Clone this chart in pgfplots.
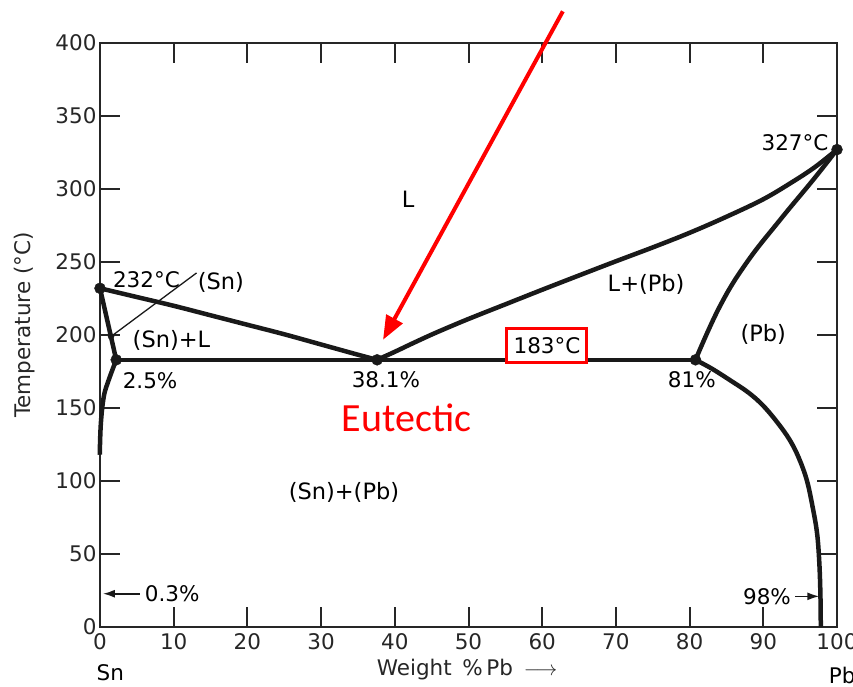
\documentclass[border=0pt]{standalone}
\usepackage{fontspec}
\setmainfont{DejaVu Sans}
\newfontfamily\calibri{Carlito}
\usepackage{pgfplots}
\pgfplotsset{compat=1.18}
\usetikzlibrary{arrows.meta}
\newcommand\fsz{\fontsize{21.5}{25}\selectfont}
\newcommand\fsr{\fontsize{22.5}{26}\selectfont}
\begin{document}
\begin{tikzpicture}
\begin{axis}[
  at={(0,0)}, anchor=south west,
  scale only axis, width=737pt, height=584pt,
  xmin=0, xmax=100, ymin=0, ymax=400,
  xtick={0,10,...,100}, ytick={0,50,...,400},
  tick align=inside, major tick length=20pt,
  axis line style={line width=2pt, black!85},
  every tick/.style={line width=2pt, black!85},
  tick label style={font=\fsz, text=black!85},
  xticklabel style={yshift=-3pt},
  /pgf/number format/assume math mode=true,
  clip=false,
  xlabel={Weight\enspace\%\,Pb\enspace$\longrightarrow$},
  xlabel style={font=\fsz, text=black!85, at={(axis description cs:0.498,-0.0736)}, anchor=center},
  ylabel={Temperature (°C)},
  ylabel style={font=\fsz, text=black!85, at={(axis description cs:-0.1018,0.517)}, anchor=center},
]
% left liquidus
\addplot[black!90, line width=4.5pt, smooth, tension=0.6] coordinates {
(0,232) (5,226) (10,220) (15,213.5) (20,207) (25,200.5) (30,193.5) (35,186.5) (37.6,183)};
% right liquidus
\addplot[black!90, line width=4.5pt, smooth, tension=0.6] coordinates {
(37.6,183) (40,188.5) (42,193.3) (44,198) (46,202.5) (50,211) (55,221) (60,231) (65,240.8) (70,250.5) (75,260) (80,270) (85,281) (90,293) (94,305) (97,315) (100,327)};
% (Pb) solidus
\addplot[black!90, line width=4.5pt, smooth, tension=0.7] coordinates {
(80.8,183) (84.1,219.6) (87.7,249.3) (92.3,279) (96.8,306.5) (100,327)};
% (Pb) solvus
\addplot[black!90, line width=4.5pt, smooth, tension=0.6] coordinates {
(80.8,183) (83,177) (85.5,169) (88,160.5) (90,151.5) (92,139.5) (93.6,128) (94.8,116) (95.9,100.6) (96.7,82) (97.3,64) (97.6,44) (97.75,22) (97.8,0)};
% (Sn) solidus
\addplot[black!90, line width=4.5pt] coordinates {(0,232) (2.2,183)};
% (Sn) solvus
\addplot[black!90, line width=4.5pt, smooth, tension=0.6] coordinates {
(2.2,183) (1.6,175) (1.1,168) (0.6,160) (0.3,150) (0.1,138) (0,125) (0,118)};
% eutectic line
\addplot[black!90, line width=4.5pt] coordinates {(2.2,183) (80.8,183)};
% points
\addplot[only marks, mark=*, mark size=5.5pt, black!90] coordinates {(0,232) (2.2,183) (37.6,183) (80.8,183) (100,327)};
% leader line to (Sn)
\addplot[black!90, line width=1.3pt] coordinates {(1.5,199) (13.1,242.5)};
\addplot[only marks, mark=*, mark size=3pt, black!90] coordinates {(1.5,199)};
% small arrows
\addplot[black!90, line width=1.6pt, -{Latex[length=12pt,width=8pt]}] coordinates {(5.4,22.8) (0.4,22.8)};
\addplot[black!90, line width=1.6pt, -{Latex[length=12pt,width=8pt]}] coordinates {(94.3,21) (97.6,21)};
% labels
\node[font=\fsr] at (axis cs:41.8,292.7) {L};
\node[font=\fsz] at (axis cs:6.3,238) {232°C};
\node[font=\fsr] at (axis cs:16.4,235.8) {(Sn)};
\node[font=\fsr] at (axis cs:9.7,196) {(Sn)+L};
\node[font=\fsz] at (axis cs:6.8,168.6) {2.5\%};
\node[font=\fsz] at (axis cs:38.8,169.3) {38.1\%};
\node[font=\fsz] at (axis cs:80.3,169.3) {81\%};
\node[draw=red, line width=3pt, fill=white, minimum width=80pt, minimum height=34pt, inner sep=0pt, font=\fsz] at (axis cs:60.65,193) {183°C};
\node[font=\fsr] at (axis cs:74.1,234.4) {L+(Pb)};
\node[font=\fsr] at (axis cs:90,200.1) {(Pb)};
\node[font=\fsz] at (axis cs:94.3,331.9) {327°C};
\node[font=\fsr] at (axis cs:33.1,92.4) {(Sn)+(Pb)};
\node[font=\calibri\fontsize{40}{44}\selectfont, text=red] at (axis cs:41.6,143.5) {Eutectic};
\node[font=\fsz] at (axis cs:9.8,22.8) {0.3\%};
\node[font=\fsz] at (axis cs:90.5,21) {98\%};
\node[font=\fsz] at (axis cs:1.4,-31) {Sn};
\node[font=\fsz] at (axis cs:100.7,-33) {Pb};
% red arrow
\addplot[red, line width=4pt, -{Triangle[length=24pt,width=18pt]}] coordinates {(62.8,421.7) (38.4,196.7)};
\end{axis}
\pgfresetboundingbox
\path[use as bounding box] (-100pt,-59pt) rectangle (753pt,627pt);
\end{tikzpicture}
\end{document}
